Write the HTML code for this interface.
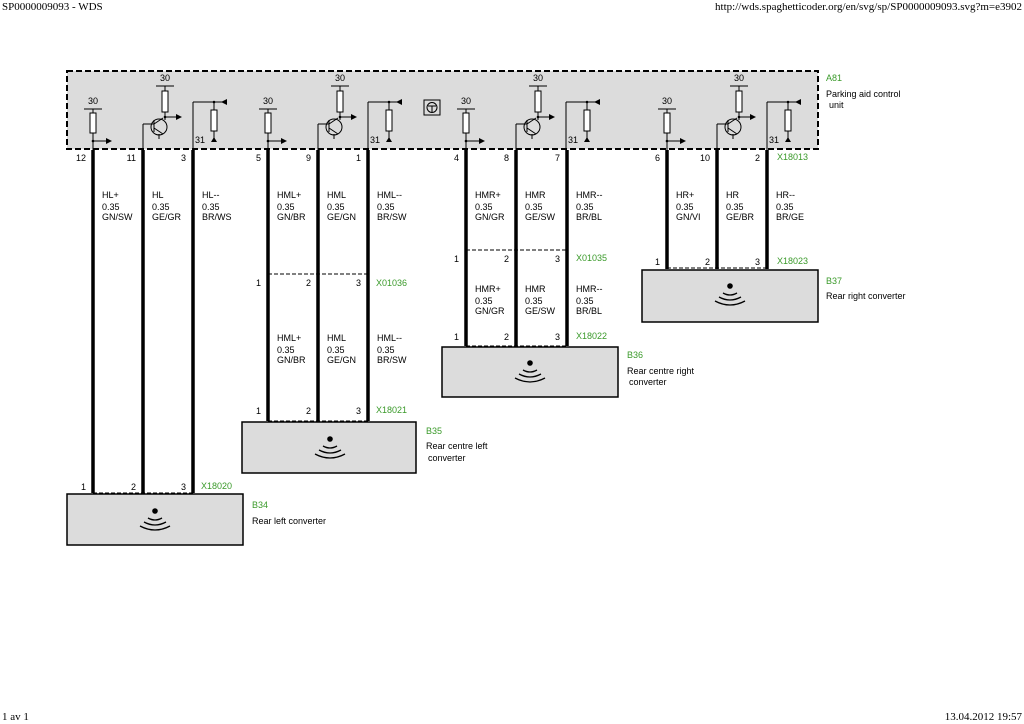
<!DOCTYPE html>
<html><head><meta charset="utf-8"><style>
html,body{margin:0;padding:0;background:#fff;}
svg{display:block;}
text{font-family:"Liberation Sans",sans-serif;font-size:9px;fill:#000;}
.g{fill:#3a9a2a;}
.s{font-family:"Liberation Serif",serif;font-size:11px;}
</style></head><body>
<svg width="1024" height="724" viewBox="0 0 1024 724" xmlns="http://www.w3.org/2000/svg">
<defs>
<g id="ctl">
 <text x="93" y="104" text-anchor="middle">30</text>
 <line x1="84" y1="109" x2="102" y2="109" stroke="#000"/>
 <line x1="93" y1="109" x2="93" y2="113" stroke="#000"/>
 <rect x="90" y="113" width="6" height="20" fill="#fff" stroke="#000"/>
 <line x1="93" y1="133" x2="93" y2="150" stroke="#000"/>
 <line x1="93" y1="141" x2="107" y2="141" stroke="#000"/>
 <path d="M106 138 L112 141 L106 144Z"/>
 <text x="165" y="81" text-anchor="middle">30</text>
 <line x1="156" y1="86" x2="174" y2="86" stroke="#000"/>
 <line x1="165" y1="86" x2="165" y2="91" stroke="#000"/>
 <rect x="162" y="91" width="6" height="21" fill="#fff" stroke="#000"/>
 <line x1="165" y1="112" x2="165" y2="120" stroke="#000"/>
 <line x1="165" y1="117" x2="177" y2="117" stroke="#000"/>
 <path d="M176 114 L182 117 L176 120Z"/>
 <circle cx="159" cy="127" r="8" fill="none" stroke="#000"/>
 <line x1="143" y1="150" x2="143" y2="124" stroke="#000"/>
 <line x1="143" y1="124" x2="154" y2="124" stroke="#000"/>
 <line x1="154" y1="120" x2="154" y2="132" stroke="#000"/>
 <line x1="154" y1="124" x2="163" y2="118" stroke="#000"/>
 <line x1="154" y1="128" x2="163" y2="134" stroke="#000"/>
 <line x1="159" y1="134" x2="159" y2="139" stroke="#000"/>
 <line x1="193" y1="150" x2="193" y2="102" stroke="#000"/>
 <line x1="193" y1="102" x2="222" y2="102" stroke="#000"/>
 <path d="M221 99 L227 102 L221 105Z" transform="rotate(180 224 102)"/>
 <line x1="214" y1="102" x2="214" y2="110" stroke="#000"/>
 <rect x="211" y="110" width="6" height="21" fill="#fff" stroke="#000"/>
 <line x1="214" y1="131" x2="214" y2="138" stroke="#000"/>
 <path d="M211 142 L214 137 L217 142Z"/>
 <text x="200" y="143" text-anchor="middle">31</text>
 <circle cx="93" cy="141" r="1.3"/><circle cx="165" cy="117" r="1.3"/><circle cx="214" cy="102" r="1.3"/>
</g>
<g id="spk">
 <circle cx="0" cy="0" r="2.8"/>
 <path d="M-7 7 Q0 11 7 7 M-11 11 Q0 17 11 11 M-15 15 Q0 23 15 15" fill="none" stroke="#000" stroke-width="1.3"/>
</g>
</defs>

<text x="2" y="10" class="s">SP0000009093 - WDS</text>
<text x="1022" y="10" class="s" text-anchor="end">http://wds.spaghetticoder.org/en/svg/sp/SP0000009093.svg?m=e3902</text>
<text x="2" y="720" class="s">1 av 1</text>
<text x="1022" y="720" class="s" text-anchor="end">13.04.2012 19:57</text>

<rect x="67" y="71" width="751" height="78" fill="#dcdcdc" stroke="#000" stroke-width="2" stroke-dasharray="6,3"/>
<use href="#ctl"/>
<use href="#ctl" transform="translate(175,0)"/>
<use href="#ctl" transform="translate(373,0)"/>
<use href="#ctl" transform="translate(574,0)"/>
<rect x="424" y="100" width="16" height="15" fill="none" stroke="#000"/>
<circle cx="432" cy="107.5" r="5" fill="none" stroke="#000"/>
<path d="M428 106 L436 106 M432 106 L432 112" stroke="#000"/>
<text x="826" y="81" class="g">A81</text>
<text x="826" y="97">Parking aid control</text>
<text x="829" y="108">unit</text>
<text x="777" y="160" class="g">X18013</text>

<g stroke="#000" stroke-width="3.5">
<line x1="93" y1="150" x2="93" y2="493"/><line x1="143" y1="150" x2="143" y2="493"/><line x1="193" y1="150" x2="193" y2="493"/>
<line x1="268" y1="150" x2="268" y2="421"/><line x1="318" y1="150" x2="318" y2="421"/><line x1="368" y1="150" x2="368" y2="421"/>
<line x1="466" y1="150" x2="466" y2="346"/><line x1="516" y1="150" x2="516" y2="346"/><line x1="567" y1="150" x2="567" y2="346"/>
<line x1="667" y1="150" x2="667" y2="269"/><line x1="717" y1="150" x2="717" y2="269"/><line x1="767" y1="150" x2="767" y2="269"/>
</g>
<g stroke="#000" stroke-width="1" stroke-dasharray="4,2" fill="none">
<line x1="93" y1="493" x2="193" y2="493"/>
<line x1="268" y1="274" x2="368" y2="274"/><line x1="268" y1="421" x2="368" y2="421"/>
<line x1="466" y1="250" x2="567" y2="250"/><line x1="466" y1="346" x2="567" y2="346"/>
<line x1="667" y1="268" x2="767" y2="268"/>
</g>
<g text-anchor="end">
<text x="86" y="161">12</text><text x="136" y="161">11</text><text x="186" y="161">3</text>
<text x="261" y="161">5</text><text x="311" y="161">9</text><text x="361" y="161">1</text>
<text x="459" y="161">4</text><text x="509" y="161">8</text><text x="560" y="161">7</text>
<text x="660" y="161">6</text><text x="710" y="161">10</text><text x="760" y="161">2</text>
<text x="86" y="490">1</text><text x="136" y="490">2</text><text x="186" y="490">3</text>
<text x="261" y="286">1</text><text x="311" y="286">2</text><text x="361" y="286">3</text>
<text x="261" y="414">1</text><text x="311" y="414">2</text><text x="361" y="414">3</text>
<text x="459" y="262">1</text><text x="509" y="262">2</text><text x="560" y="262">3</text>
<text x="459" y="340">1</text><text x="509" y="340">2</text><text x="560" y="340">3</text>
<text x="660" y="265">1</text><text x="710" y="265">2</text><text x="760" y="265">3</text>
</g>
<g>
<text x="102" y="198">HL+</text><text x="102" y="210">0.35</text><text x="102" y="220">GN/SW</text>
<text x="152" y="198">HL</text><text x="152" y="210">0.35</text><text x="152" y="220">GE/GR</text>
<text x="202" y="198">HL--</text><text x="202" y="210">0.35</text><text x="202" y="220">BR/WS</text>
<text x="277" y="198">HML+</text><text x="277" y="210">0.35</text><text x="277" y="220">GN/BR</text>
<text x="327" y="198">HML</text><text x="327" y="210">0.35</text><text x="327" y="220">GE/GN</text>
<text x="377" y="198">HML--</text><text x="377" y="210">0.35</text><text x="377" y="220">BR/SW</text>
<text x="475" y="198">HMR+</text><text x="475" y="210">0.35</text><text x="475" y="220">GN/GR</text>
<text x="525" y="198">HMR</text><text x="525" y="210">0.35</text><text x="525" y="220">GE/SW</text>
<text x="576" y="198">HMR--</text><text x="576" y="210">0.35</text><text x="576" y="220">BR/BL</text>
<text x="676" y="198">HR+</text><text x="676" y="210">0.35</text><text x="676" y="220">GN/VI</text>
<text x="726" y="198">HR</text><text x="726" y="210">0.35</text><text x="726" y="220">GE/BR</text>
<text x="776" y="198">HR--</text><text x="776" y="210">0.35</text><text x="776" y="220">BR/GE</text>
<text x="277" y="341">HML+</text><text x="277" y="353">0.35</text><text x="277" y="363">GN/BR</text>
<text x="327" y="341">HML</text><text x="327" y="353">0.35</text><text x="327" y="363">GE/GN</text>
<text x="377" y="341">HML--</text><text x="377" y="353">0.35</text><text x="377" y="363">BR/SW</text>
<text x="475" y="292">HMR+</text><text x="475" y="304">0.35</text><text x="475" y="314">GN/GR</text>
<text x="525" y="292">HMR</text><text x="525" y="304">0.35</text><text x="525" y="314">GE/SW</text>
<text x="576" y="292">HMR--</text><text x="576" y="304">0.35</text><text x="576" y="314">BR/BL</text>
</g>
<text x="576" y="261" class="g">X01035</text>
<text x="576" y="339" class="g">X18022</text>
<text x="376" y="286" class="g">X01036</text>
<text x="376" y="413" class="g">X18021</text>
<text x="201" y="489" class="g">X18020</text>
<text x="777" y="264" class="g">X18023</text>

<g fill="#dcdcdc" stroke="#000" stroke-width="1.5">
<rect x="67" y="494" width="176" height="51"/>
<rect x="242" y="422" width="174" height="51"/>
<rect x="442" y="347" width="176" height="50"/>
<rect x="642" y="270" width="176" height="52"/>
</g>
<use href="#spk" transform="translate(155,511)"/>
<use href="#spk" transform="translate(330,439)"/>
<use href="#spk" transform="translate(530,363)"/>
<use href="#spk" transform="translate(730,286)"/>
<text x="252" y="508" class="g">B34</text><text x="252" y="524">Rear left converter</text>
<text x="426" y="434" class="g">B35</text><text x="426" y="449">Rear centre left</text><text x="428" y="461">converter</text>
<text x="627" y="358" class="g">B36</text><text x="627" y="374">Rear centre right</text><text x="629" y="385">converter</text>
<text x="826" y="284" class="g">B37</text><text x="826" y="299">Rear right converter</text>
</svg>
</body></html>
